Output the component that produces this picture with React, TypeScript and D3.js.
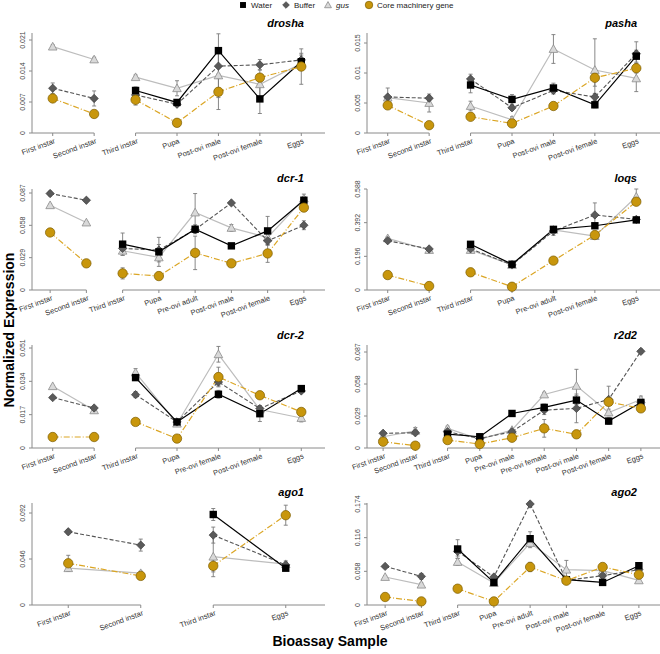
import * as d3 from "d3"

// ---- data ----
const legendNames = ["Water", "Buffer", "gus", "Core machinery gene"]

const droshaStages = ["First instar", "Second instar", "Third instar", "Pupa", "Post-ovi male", "Post-ovi female", "Eggs"]
const droshaTicks = [0, 0.007, 0.014, 0.021]
const droshaWater = [null, null, 0.0096, 0.0069, 0.0186, 0.0077, 0.0161]
const droshaWaterErr = [0, 0, 0.0008, 0.0005, 0.0038, 0.0033, 0.0015]
const droshaBuffer = [0.0101, 0.0078, 0.0086, 0.0065, 0.0151, 0.0154, 0.0165]
const droshaBufferErr = [0.0012, 0.0017, 0.0007, 0.0005, 0.0028, 0.0012, 0.0015]
const droshaGus = [0.0195, 0.0166, 0.0126, 0.0101, 0.013, 0.011, 0.0157]
const droshaGusErr = [0.0004, 0.0005, 0.0005, 0.0017, 0.005, 0.0033, 0.0012]
const droshaCore = [0.0078, 0.0043, 0.0075, 0.0023, 0.0093, 0.0125, 0.015]
const droshaCoreErr = [0.0007, 0.0004, 0.0012, 0.0004, 0.004, 0.0008, 0.004]

const pashaStages = droshaStages
const pashaTicks = [0, 0.005, 0.01, 0.015]
const pashaTickLabels = ["0", "0.005", "0.01", "0.015"]
const pashaWater = [null, null, 0.008, 0.0056, 0.0075, 0.0047, 0.0128]
const pashaWaterErr = [0, 0, 0.0013, 0.0008, 0.0008, 0.0005, 0.001]
const pashaBuffer = [0.006, 0.0058, 0.009, 0.0042, 0.0071, 0.006, 0.0132]
const pashaBufferErr = [0.0003, 0.0004, 0.0008, 0.0004, 0.0006, 0.0006, 0.002]
const pashaGus = [0.0059, 0.005, 0.0045, 0.0022, 0.014, 0.0105, 0.0091]
const pashaGusErr = [0.0016, 0.0015, 0.0008, 0.0005, 0.0024, 0.0052, 0.0022]
const pashaCore = [0.0046, 0.0013, 0.0027, 0.0016, 0.0045, 0.0092, 0.0108]
const pashaCoreErr = [0.0003, 0.0002, 0.0003, 0.0002, 0.0003, 0.0014, 0.0008]

const dcr1Stages = ["First instar", "Second instar", "Third instar", "Pupa", "Pre-ovi adult", "Post-ovi male", "Post-ovi female", "Eggs"]
const dcr1Ticks = [0, 0.029, 0.058, 0.087]
const dcr1Water = [null, null, 0.0411, 0.0342, 0.0545, 0.0396, 0.053, 0.0805]
const dcr1WaterErr = [0, 0, 0.01, 0.013, 0.004, 0.002, 0.013, 0.003]
const dcr1Buffer = [0.0865, 0.0805, 0.0373, 0.0358, 0.0542, 0.0781, 0.0441, 0.0581]
const dcr1BufferErr = [0.002, 0.001, 0.003, 0.005, 0.003, 0.001, 0.003, 0.004]
const dcr1Gus = [0.076, 0.0605, 0.0352, 0.0292, 0.0695, 0.0557, 0.0471, 0.082]
const dcr1GusErr = [0.001, 0.001, 0.004, 0.004, 0.017, 0.003, 0.003, 0.004]
const dcr1Core = [0.0516, 0.0239, 0.0149, 0.0125, 0.0333, 0.0239, 0.0328, 0.0739]
const dcr1CoreErr = [0.001, 0.001, 0.005, 0.002, 0.015, 0.001, 0.008, 0.003]

const loqsStages = ["First instar", "Second instar", "Third instar", "Pupa", "Pre-ovi adult", "Post-ovi female", "Eggs"]
const loqsTicks = [0, 0.196, 0.392, 0.588]
const loqsWater = [null, null, 0.266, 0.15, 0.353, 0.374, 0.408]
const loqsWaterErr = [0, 0, 0.012, 0.008, 0.01, 0.01, 0.008]
const loqsBuffer = [0.287, 0.239, 0.24, 0.146, 0.343, 0.437, 0.411]
const loqsBufferErr = [0.006, 0.006, 0.008, 0.008, 0.025, 0.07, 0.01]
const loqsGus = [0.301, 0.233, 0.233, 0.146, 0.35, 0.314, 0.543]
const loqsGusErr = [0.008, 0.006, 0.01, 0.015, 0.01, 0.015, 0.045]
const loqsCore = [0.087, 0.023, 0.103, 0.019, 0.171, 0.32, 0.514]
const loqsCoreErr = [0.004, 0.003, 0.004, 0.003, 0.006, 0.01, 0.02]

const dcr2Stages = ["First instar", "Second instar", "Third instar", "Pupa", "Pre-ovi female", "Post-ovi female", "Eggs"]
const dcr2Ticks = [0, 0.017, 0.034, 0.051]
const dcr2Water = [null, null, 0.0359, 0.0133, 0.0274, 0.0175, 0.0303]
const dcr2WaterErr = [0, 0, 0.0008, 0.0008, 0.002, 0.004, 0.0008]
const dcr2Buffer = [0.0257, 0.0204, 0.0272, 0.0133, 0.0337, 0.0201, 0.0291]
const dcr2BufferErr = [0.0006, 0.0008, 0.0015, 0.0008, 0.002, 0.0015, 0.0006]
const dcr2Gus = [0.0315, 0.0192, 0.0385, 0.0124, 0.0478, 0.0196, 0.0153]
const dcr2GusErr = [0.0004, 0.0006, 0.002, 0.0008, 0.004, 0.0008, 0.002]
const dcr2Core = [0.0056, 0.0056, 0.0133, 0.0048, 0.0362, 0.0269, 0.0184]
const dcr2CoreErr = [0.0002, 0.0002, 0.0003, 0.0003, 0.005, 0.0004, 0.0004]

const r2d2Stages = ["First instar", "Second instar", "Third instar", "Pupa", "Pre-ovi male", "Pre-ovi female", "Post-ovi male", "Post-ovi female", "Eggs"]
const r2d2Ticks = [0, 0.029, 0.058, 0.087]
const r2d2Water = [null, null, 0.0126, 0.0102, 0.0313, 0.0368, 0.0434, 0.0244, 0.0413]
const r2d2WaterErr = [0, 0, 0.002, 0.001, 0.001, 0.003, 0.004, 0.003, 0.002]
const r2d2Buffer = [0.0133, 0.0138, 0.0147, 0.0087, 0.0147, 0.0343, 0.0359, 0.044, 0.0876]
const r2d2BufferErr = [0.001, 0.001, 0.001, 0.001, 0.001, 0.004, 0.013, 0.012, 0.002]
const r2d2Gus = [0.0102, 0.0156, 0.0178, 0.0079, 0.0163, 0.0485, 0.0563, 0.0322, 0.044]
const r2d2GusErr = [0.001, 0.003, 0.002, 0.001, 0.001, 0.002, 0.015, 0.003, 0.003]
const r2d2Core = [0.0057, 0.0021, 0.0072, 0.0036, 0.0093, 0.0178, 0.0124, 0.0418, 0.0359]
const r2d2CoreErr = [0.001, 0.0005, 0.001, 0.0005, 0.001, 0.008, 0.001, 0.001, 0.001]

const ago1Stages = ["First instar", "Second instar", "Third instar", "Eggs"]
const ago1Ticks = [0, 0.046, 0.092]
const ago1Water = [null, null, 0.0905, 0.0368]
const ago1WaterErr = [0, 0, 0.006, 0.002]
const ago1Buffer = [0.0732, 0.0599, 0.0699, 0.0401]
const ago1BufferErr = [0.002, 0.006, 0.008, 0.004]
const ago1Gus = [0.0368, 0.0318, 0.0483, 0.0408]
const ago1GusErr = [0.002, 0.002, 0.02, 0.002]
const ago1Core = [0.0417, 0.0291, 0.0391, 0.0898]
const ago1CoreErr = [0.008, 0.002, 0.006, 0.01]

const ago2Stages = dcr1Stages
const ago2Ticks = [0, 0.058, 0.116, 0.174]
const ago2Water = [null, null, 0.0965, 0.0389, 0.1142, 0.0436, 0.0389, 0.0677]
const ago2WaterErr = [0, 0, 0.016, 0.003, 0.012, 0.003, 0.002, 0.003]
const ago2Buffer = [0.0665, 0.0493, 0.0924, 0.0482, 0.174, 0.0424, 0.0505, 0.0608]
const ago2BufferErr = [0.002, 0.005, 0.008, 0.003, 0.002, 0.003, 0.004, 0.004]
const ago2Gus = [0.0482, 0.035, 0.0741, 0.0379, 0.1068, 0.0608, 0.0591, 0.0424]
const ago2GusErr = [0.002, 0.003, 0.006, 0.003, 0.008, 0.016, 0.005, 0.003]
const ago2Core = [0.0138, 0.0062, 0.0281, 0.0062, 0.0655, 0.0419, 0.0655, 0.0522]
const ago2CoreErr = [0.002, 0.001, 0.004, 0.001, 0.008, 0.002, 0.003, 0.003]

type Gene = {
  name: string
  stages: string[]
  ticks: number[]
  tickLabels?: string[]
  series: { v: (number | null)[]; e: number[] }[]
}

const genes: Gene[] = [
  { name: "drosha", stages: droshaStages, ticks: droshaTicks, series: [
    { v: droshaWater, e: droshaWaterErr }, { v: droshaBuffer, e: droshaBufferErr },
    { v: droshaGus, e: droshaGusErr }, { v: droshaCore, e: droshaCoreErr }] },
  { name: "pasha", stages: pashaStages, ticks: pashaTicks, tickLabels: pashaTickLabels, series: [
    { v: pashaWater, e: pashaWaterErr }, { v: pashaBuffer, e: pashaBufferErr },
    { v: pashaGus, e: pashaGusErr }, { v: pashaCore, e: pashaCoreErr }] },
  { name: "dcr-1", stages: dcr1Stages, ticks: dcr1Ticks, series: [
    { v: dcr1Water, e: dcr1WaterErr }, { v: dcr1Buffer, e: dcr1BufferErr },
    { v: dcr1Gus, e: dcr1GusErr }, { v: dcr1Core, e: dcr1CoreErr }] },
  { name: "loqs", stages: loqsStages, ticks: loqsTicks, series: [
    { v: loqsWater, e: loqsWaterErr }, { v: loqsBuffer, e: loqsBufferErr },
    { v: loqsGus, e: loqsGusErr }, { v: loqsCore, e: loqsCoreErr }] },
  { name: "dcr-2", stages: dcr2Stages, ticks: dcr2Ticks, series: [
    { v: dcr2Water, e: dcr2WaterErr }, { v: dcr2Buffer, e: dcr2BufferErr },
    { v: dcr2Gus, e: dcr2GusErr }, { v: dcr2Core, e: dcr2CoreErr }] },
  { name: "r2d2", stages: r2d2Stages, ticks: r2d2Ticks, series: [
    { v: r2d2Water, e: r2d2WaterErr }, { v: r2d2Buffer, e: r2d2BufferErr },
    { v: r2d2Gus, e: r2d2GusErr }, { v: r2d2Core, e: r2d2CoreErr }] },
  { name: "ago1", stages: ago1Stages, ticks: ago1Ticks, series: [
    { v: ago1Water, e: ago1WaterErr }, { v: ago1Buffer, e: ago1BufferErr },
    { v: ago1Gus, e: ago1GusErr }, { v: ago1Core, e: ago1CoreErr }] },
  { name: "ago2", stages: ago2Stages, ticks: ago2Ticks, series: [
    { v: ago2Water, e: ago2WaterErr }, { v: ago2Buffer, e: ago2BufferErr },
    { v: ago2Gus, e: ago2GusErr }, { v: ago2Core, e: ago2CoreErr }] },
]

// ---- layout ----
const colX = [[32, 322], [367, 657]]
const rowBase = [133, 290, 448, 605]
const rowAxisTop = [33, 189, 345, 503]
const topTickY = [40, 43, 193, 189, 348, 352, 513, 504]

const gold = "#c8960c"
const styles = [
  { stroke: "#000", dash: null, width: 1.2 },
  { stroke: "#555", dash: "4,2", width: 1.1 },
  { stroke: "#bdbdbd", dash: null, width: 1.2 },
  { stroke: "#dba625", dash: "6,2,1,2", width: 1.2 },
]
const font = "Liberation Sans, Arial, sans-serif"

// s = scale factor for the legend
const Marker = ({ kind, x, y, s = 1 }: { kind: number; x: number; y: number; s?: number }) => {
  if (kind === 0) {
    const h = 3.7 * s
    return <rect x={x - h} y={y - h} width={2 * h} height={2 * h} fill="#000" />
  }
  if (kind === 1) {
    const h = 4.2 * s
    return <path d={`M${x},${y - h}L${x + h},${y}L${x},${y + h}L${x - h},${y}Z`}
      fill="#5a5a5a" stroke="#333" strokeWidth={0.6} />
  }
  if (kind === 2) {
    const w = 4.3 * s, t = 4.3 * s, b = 3.4 * s
    return <path d={`M${x},${y - t}L${x + w},${y + b}L${x - w},${y + b}Z`}
      fill="#d9d9d9" stroke="#8c8c8c" strokeWidth={0.8} />
  }
  return <circle cx={x} cy={y} r={4.7 * s} fill={gold} stroke="#7d5d00" strokeWidth={0.7} />
}

const Panel = ({ gene, idx }: { gene: Gene; idx: number }) => {
  const row = Math.floor(idx / 2)
  const [x0, x1] = colX[idx % 2]
  const base = rowBase[row]
  const topTick = gene.ticks[gene.ticks.length - 1]
  const x = d3.scalePoint<string>().domain(gene.stages).range([x0, x1]).padding(0.5)
  const y = d3.scaleLinear().domain([0, topTick]).range([base, topTickY[idx]])
  const groups = [[0, 1], d3.range(2, gene.stages.length)]
  const axisCol = "#8a8a8a"
  const secondX = x(gene.stages[1])!
  const thirdX = x(gene.stages[2])!
  return (
    <g>
      <text x={idx % 2 === 0 ? 304 : 637} y={base - (idx < 2 ? 106 : row === 1 ? 108 : 109)}
        textAnchor="end" fontFamily={font} fontSize={11} fontWeight="bold" fontStyle="italic">{gene.name}</text>
      {/* y axis */}
      <line x1={x0} x2={x0} y1={base} y2={rowAxisTop[row]} stroke={axisCol} />
      {gene.ticks.map((t, i) => (
        <g key={i}>
          <line x1={x0 - 3} x2={x0} y1={y(t)} y2={y(t)} stroke={axisCol} />
          <text transform={`translate(${x0 - 7},${y(t)}) rotate(-90)`} textAnchor="middle"
            fontFamily={font} fontSize={7} fill="#444">{gene.tickLabels ? gene.tickLabels[i] : String(t)}</text>
        </g>
      ))}
      {/* broken x axis */}
      <line x1={x0} x2={secondX} y1={base} y2={base} stroke={axisCol} />
      <line x1={thirdX} x2={x1 + 3} y1={base} y2={base} stroke={axisCol} />
      {gene.stages.map(s => (
        <g key={s}>
          <line x1={x(s)} x2={x(s)} y1={base} y2={base + 3} stroke={axisCol} />
          <text transform={`translate(${x(s)! + 3},${base + 10}) rotate(-20)`} textAnchor="end"
            fontFamily={font} fontSize={7.5} fill="#333">{s}</text>
        </g>
      ))}
      {/* error bars */}
      {gene.series.map((s, k) => s.v.map((v, i) => v == null || !s.e[i] ? null : (
        <g key={`e${k}-${i}`} stroke="#7a7a7a" strokeWidth={0.9}>
          <line x1={x(gene.stages[i])} x2={x(gene.stages[i])} y1={y(v - s.e[i])} y2={y(v + s.e[i])} />
          <line x1={x(gene.stages[i])! - 2} x2={x(gene.stages[i])! + 2} y1={y(v - s.e[i])} y2={y(v - s.e[i])} />
          <line x1={x(gene.stages[i])! - 2} x2={x(gene.stages[i])! + 2} y1={y(v + s.e[i])} y2={y(v + s.e[i])} />
        </g>
      )))}
      {/* lines */}
      {[2, 1, 0, 3].map(k => {
        const s = gene.series[k]
        const st = styles[k]
        const ln = d3.line<number>()
          .defined(i => s.v[i] != null)
          .x(i => x(gene.stages[i])!)
          .y(i => y(s.v[i] as number))
        return groups.map((g, gi) => (
          <path key={`l${k}-${gi}`} d={ln(g) || ""} fill="none" stroke={st.stroke}
            strokeWidth={st.width} strokeDasharray={st.dash || undefined} />
        ))
      })}
      {/* markers */}
      {[2, 1, 0, 3].map(k => gene.series[k].v.map((v, i) => v == null ? null : (
        <Marker key={`m${k}-${i}`} kind={k} x={x(gene.stages[i])!} y={y(v)} />
      )))}
    </g>
  )
}

const legendX = [243, 286, 328, 369]

export default function App() {
  return (
    <svg width={660} height={654} style={{ position: "absolute", left: 0, top: 0, background: "#fff" }}>
      {legendNames.map((n, k) => (
        <g key={n}>
          <Marker kind={k} x={legendX[k]} y={5} s={0.8} />
          <text x={legendX[k] + 8} y={8} fontFamily={font} fontSize={8} fill="#222"
            fontStyle={k === 2 ? "italic" : "normal"}>{n}</text>
        </g>
      ))}
      {genes.map((g, i) => <Panel key={g.name} gene={g} idx={i} />)}
      <text transform="translate(14,330) rotate(-90)" textAnchor="middle" fontFamily={font}
        fontSize={14} fontWeight="bold">Normalized Expression</text>
      <text x={330} y={646} textAnchor="middle" fontFamily={font} fontSize={14} fontWeight="bold">Bioassay Sample</text>
    </svg>
  )
}
